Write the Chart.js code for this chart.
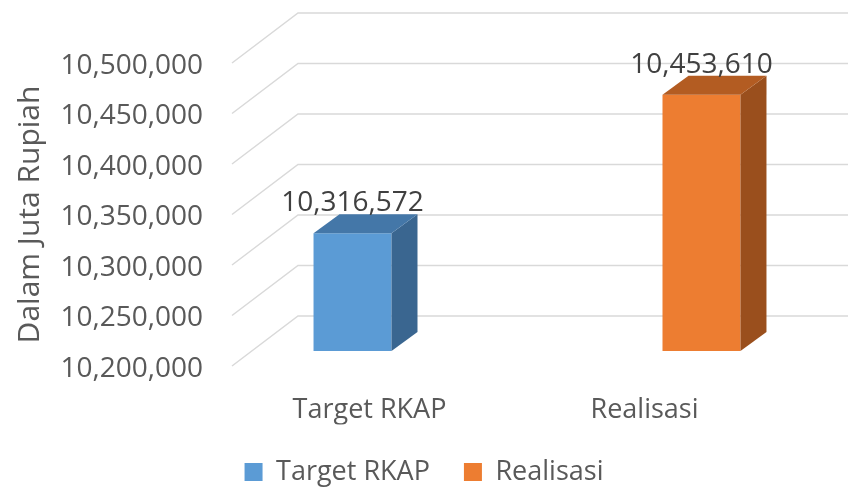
<!DOCTYPE html>
<html>
<head>
<meta charset="utf-8">
<script src="https://cdn.jsdelivr.net/npm/chart.js@4.4.0/dist/chart.umd.min.js"></script>
<style>
  html, body { margin: 0; padding: 0; background: #fff; }
  #wrap { width: 848px; height: 487px; }
</style>
</head>
<body>
<div id="wrap"><canvas id="rkapChart" width="848" height="487"></canvas></div>
<script>
const categories = ['Target RKAP', 'Realisasi'];
const targetValues = [10316572, null];
const realisasiValues = [null, 10453610];
const yTicks = [10200000, 10250000, 10300000, 10350000, 10400000, 10450000, 10500000];

const FONT = '"Open Sans", "Noto Sans", sans-serif';
const frontColors = ['#5B9BD5', '#ED7D31'];
const sideColors = ['#3A6690', '#9A4F1D'];
const topColors = ['#4477A8', '#B35C22'];

// depth of the wall / floor and of the bars
const WALL_DX = 66, WALL_DY = -50;
const BAR_SHIFT_X = 20, BAR_SHIFT_Y = -15;
const BAR_DX = 26, BAR_DY = -19;

function fmt(n) {
    return new Intl.NumberFormat('en-US').format(n);
}

const threeD = {
    id: 'threeD',
    beforeDatasetsDraw(chart) {
        const ctx = chart.ctx;
        const area = chart.chartArea;
        const y = chart.scales.y;
        ctx.save();
        ctx.strokeStyle = '#D9D9D9';
        ctx.lineWidth = 1.5;
        yTicks.forEach(v => {
            const py = y.getPixelForValue(v);
            ctx.beginPath();
            ctx.moveTo(area.left, py);
            ctx.lineTo(area.left + WALL_DX, py + WALL_DY);
            ctx.lineTo(chart.width, py + WALL_DY);
            ctx.stroke();
        });
        ctx.restore();
        // bars sit a bit behind the front plane
        ctx.save();
        ctx.translate(BAR_SHIFT_X, BAR_SHIFT_Y);
    },
    afterDatasetsDraw(chart) {
        const ctx = chart.ctx;
        chart.data.datasets.forEach((ds, i) => {
            const meta = chart.getDatasetMeta(i);
            meta.data.forEach((bar, j) => {
                if (ds.data[j] == null) return;
                const p = bar.getProps(['x', 'y', 'base', 'width'], true);
                const l = p.x - p.width / 2, r = p.x + p.width / 2;
                // side face
                ctx.fillStyle = sideColors[i];
                ctx.beginPath();
                ctx.moveTo(r, p.y);
                ctx.lineTo(r + BAR_DX, p.y + BAR_DY);
                ctx.lineTo(r + BAR_DX, p.base + BAR_DY);
                ctx.lineTo(r, p.base);
                ctx.closePath();
                ctx.fill();
                // top face
                ctx.fillStyle = topColors[i];
                ctx.beginPath();
                ctx.moveTo(l, p.y);
                ctx.lineTo(l + BAR_DX, p.y + BAR_DY);
                ctx.lineTo(r + BAR_DX, p.y + BAR_DY);
                ctx.lineTo(r, p.y);
                ctx.closePath();
                ctx.fill();
                // value label
                ctx.fillStyle = '#404040';
                ctx.font = '28px ' + FONT;
                ctx.textAlign = 'center';
                ctx.textBaseline = 'middle';
                ctx.fillText(fmt(ds.data[j]), p.x, p.y - 30);
            });
        });
        ctx.restore();
    }
};

const ctx = document.getElementById('rkapChart').getContext('2d');
new Chart(ctx, {
    type: 'bar',
    data: {
        labels: categories,
        datasets: [
            { label: 'Target RKAP', data: targetValues, backgroundColor: frontColors[0], base: yTicks[0] },
            { label: 'Realisasi', data: realisasiValues, backgroundColor: frontColors[1], base: yTicks[0] }
        ]
    },
    options: {
        responsive: false,
        animation: false,
        categoryPercentage: 0.538,
        barPercentage: 1.054,
        layout: { padding: { left: 0, right: 0, top: 63, bottom: -8.5 } },
        scales: {
            x: {
                grid: { display: false, drawTicks: false },
                border: { display: false },
                ticks: { color: '#595959', font: { family: FONT, size: 27 }, padding: 28 },
                afterFit(scale) { scale.height = 58.5; }
            },
            y: {
                min: 10200000,
                max: 10500000,
                afterBuildTicks(scale) { scale.ticks = yTicks.map(v => ({ value: v })); },
                grid: { display: false, drawTicks: false },
                border: { display: false },
                ticks: {
                    color: '#595959',
                    font: { family: FONT, size: 28 },
                    padding: 29,
                    labelOffset: 3,
                    callback: v => fmt(v)
                },
                title: {
                    display: true,
                    text: 'Dalam Juta Rupiah',
                    color: '#595959',
                    font: { family: FONT, size: 30 },
                    padding: { top: 12, bottom: 0 }
                },
                afterFit(scale) { scale.width = 232; }
            },
            // empty axis on the right keeps room for the back wall
            yRight: {
                position: 'right',
                grid: { display: false, drawTicks: false },
                border: { display: false },
                ticks: { display: false },
                afterFit(scale) { scale.width = 66; }
            }
        },
        plugins: {
            legend: {
                position: 'bottom',
                labels: {
                    color: '#595959',
                    font: { family: FONT, size: 27 },
                    boxWidth: 18,
                    boxHeight: 18,
                    padding: 34
                }
            },
            tooltip: { enabled: false }
        }
    },
    plugins: [threeD]
});
</script>
</body>
</html>
